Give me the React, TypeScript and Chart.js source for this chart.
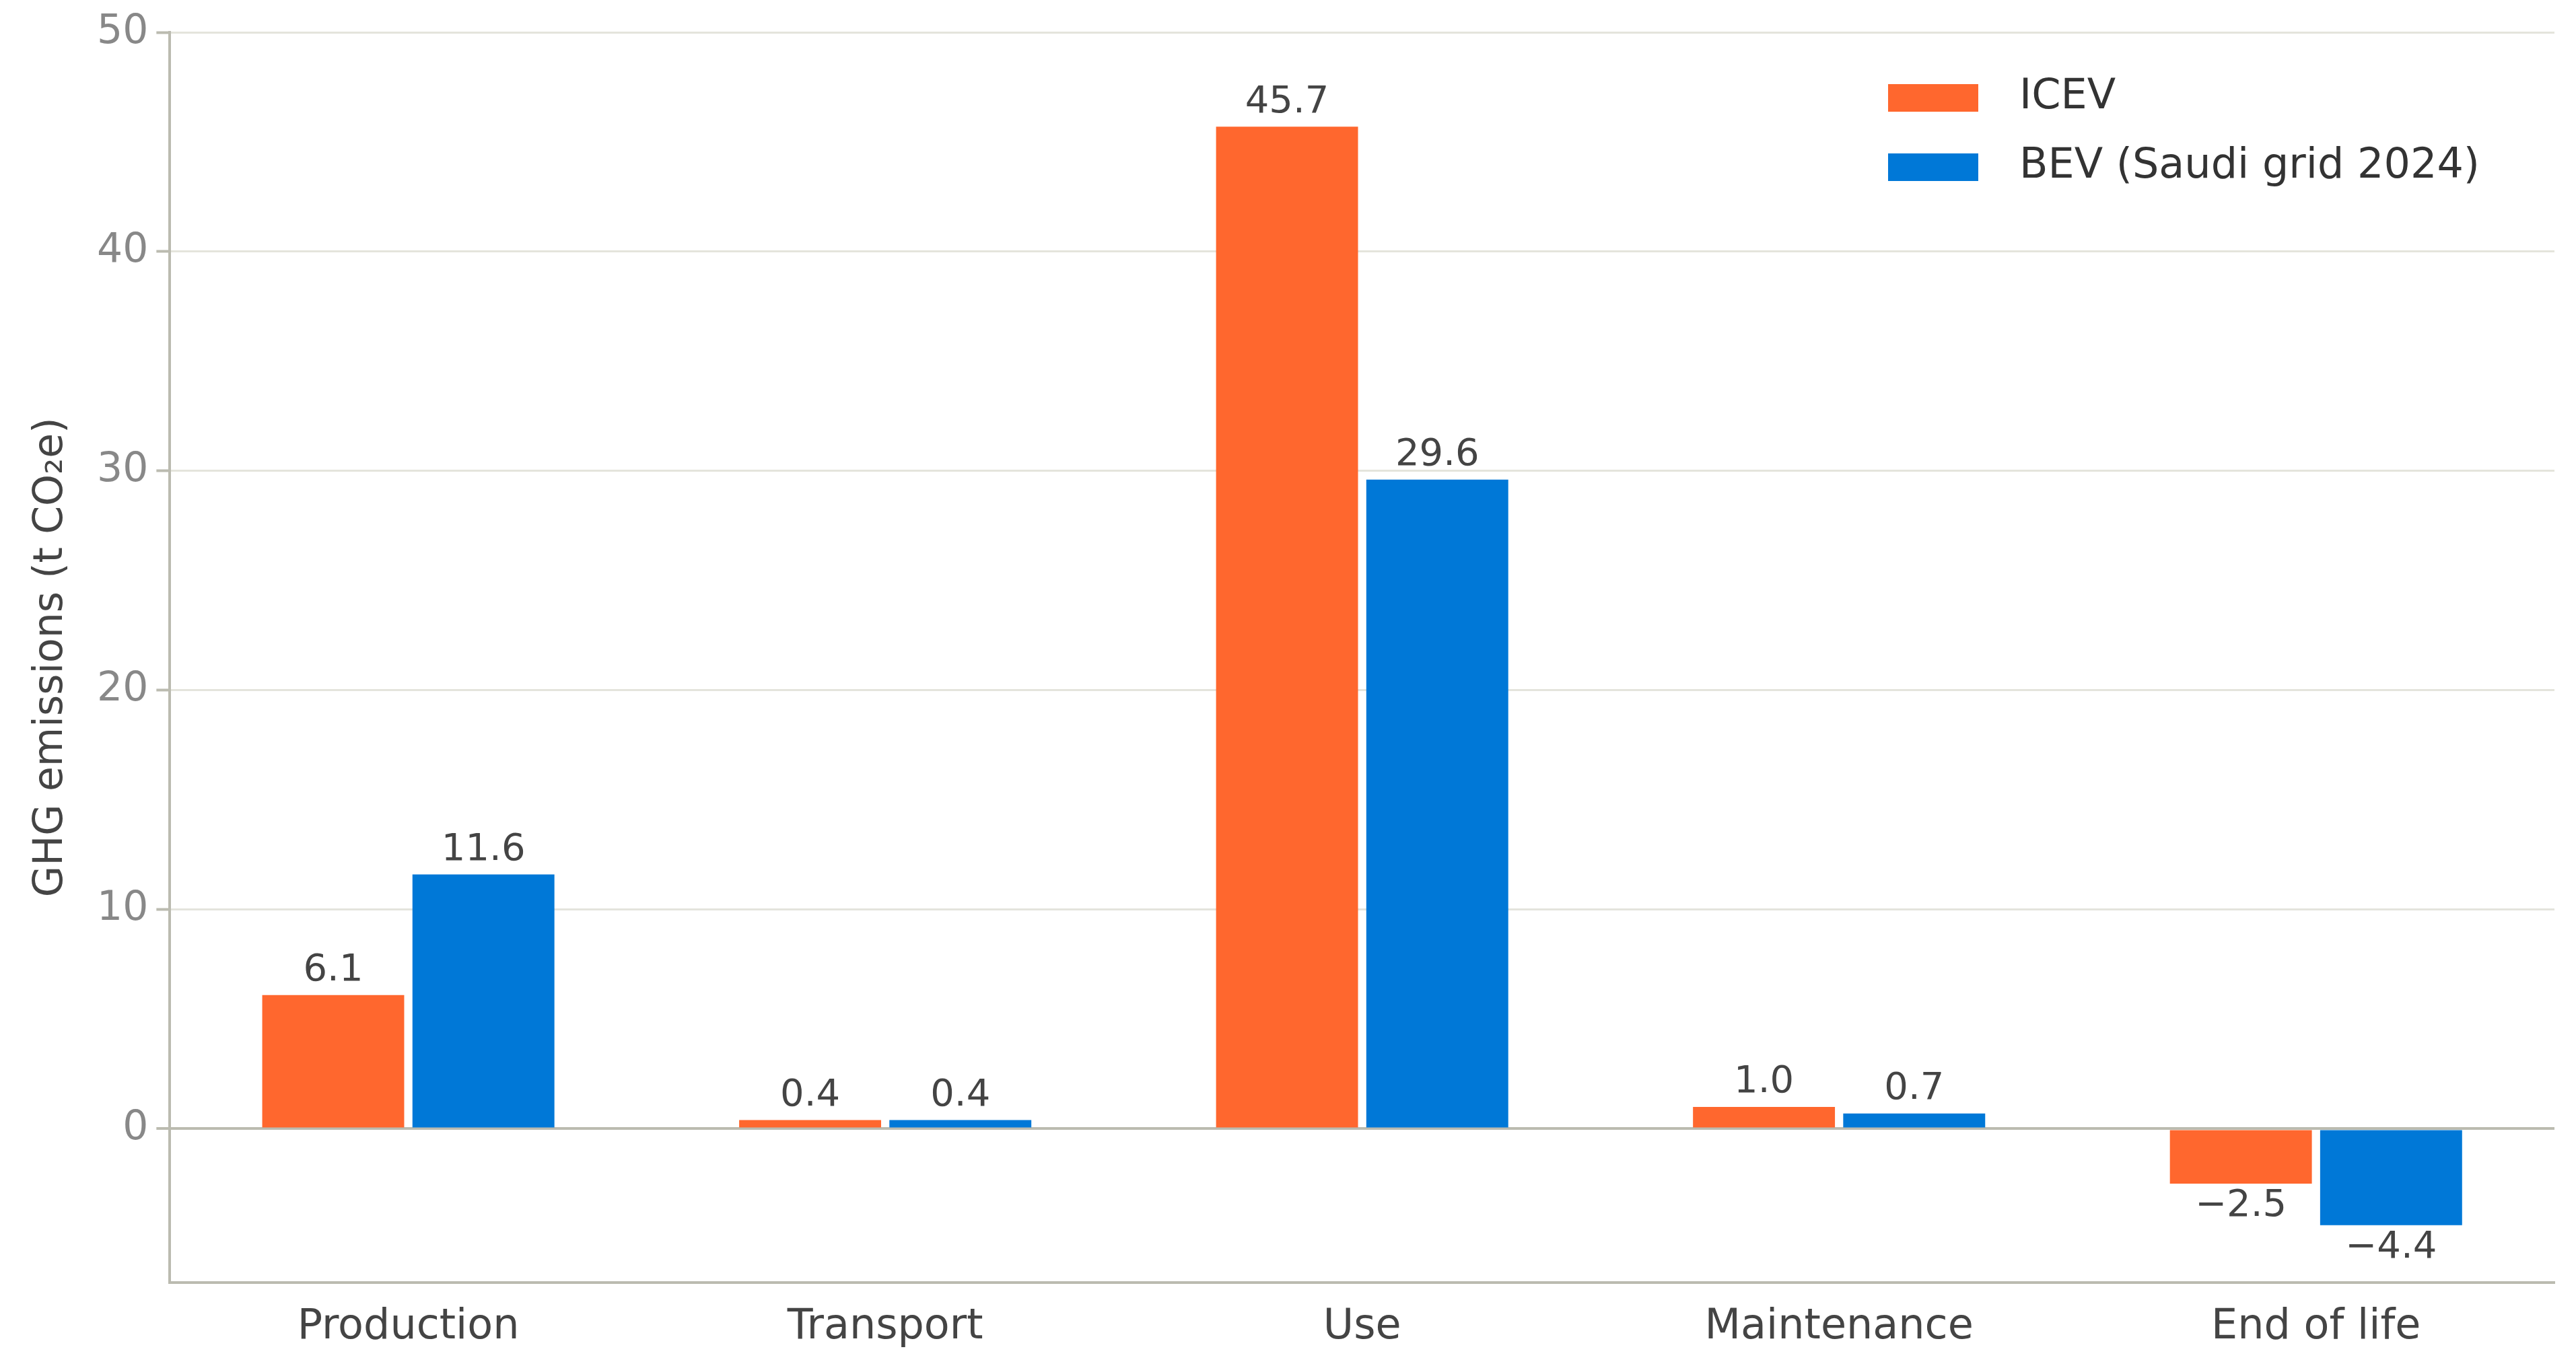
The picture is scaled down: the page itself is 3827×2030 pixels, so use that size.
import React, { useEffect, useRef } from "react";
import { Chart, registerables } from "chart.js";
Chart.register(...registerables);

const categories = ["Production", "Transport", "Use", "Maintenance", "End of life"];
const icev = [6.1, 0.4, 45.7, 1.0, -2.5];
const bev = [11.6, 0.4, 29.6, 0.7, -4.4];
const seriesNames = ["ICEV", "BEV (Saudi grid 2024)"];
const colors = ["#FF672E", "#0078D7"];
const yTicks = [0, 10, 20, 30, 40, 50];

const fmt = (v: number) => (v < 0 ? "\u2212" + Math.abs(v).toFixed(1) : v.toFixed(1));

const labelPlugin = {
  id: "labels",
  afterDatasetsDraw(chart: any) {
    const ctx = chart.ctx;
    ctx.save();
    ctx.font = "56px 'DejaVu Sans'";
    ctx.fillStyle = "#444";
    ctx.textAlign = "center";
    chart.data.datasets.forEach((ds: any, i: number) => {
      chart.getDatasetMeta(i).data.forEach((bar: any, j: number) => {
        const v = ds.data[j];
        if (v >= 0) { ctx.textBaseline = "bottom"; ctx.fillText(fmt(v), bar.x, bar.y - 8); }
        else { ctx.textBaseline = "top"; ctx.fillText(fmt(v), bar.x, bar.y + 6); }
      });
    });
    // legend
    const ca = chart.chartArea;
    const x0 = ca.right - 990, y0 = 145;
    ctx.textAlign = "left"; ctx.textBaseline = "middle"; ctx.font = "62px 'DejaVu Sans'";
    seriesNames.forEach((n, i) => {
      const y = y0 + i * 103;
      ctx.fillStyle = colors[i];
      ctx.fillRect(x0, y - 20, 134, 41);
      ctx.fillStyle = "#333";
      ctx.fillText(n, x0 + 195, y);
    });
    ctx.restore();
  },
};

export default function App() {
  const ref = useRef<HTMLCanvasElement>(null);
  useEffect(() => {
    document.body.style.margin = "0";
    const chart = new Chart(ref.current!, {
      type: "bar",
      data: {
        labels: categories,
        datasets: [
          { label: seriesNames[0], data: icev, backgroundColor: colors[0] },
          { label: seriesNames[1], data: bev, backgroundColor: colors[1] },
        ],
      },
      options: {
        responsive: false,
        animation: false,
        categoryPercentage: 0.63,
        barPercentage: 0.945,
        layout: { padding: { top: 30, right: 32, left: 20, bottom: 10 } },
        plugins: { legend: { display: false }, tooltip: { enabled: false } },
        scales: {
          x: {
            grid: { display: false, drawOnChartArea: false, drawTicks: true, tickLength: 20, tickColor: "#bbbbb0", tickWidth: 4 },
            border: { color: "#bbbbb0", width: 4 },
            ticks: { color: "#444", font: { family: "DejaVu Sans", size: 62 }, padding: 10 },
          },
          y: {
            min: -7,
            max: 50,
            afterBuildTicks: (a: any) => { a.ticks = yTicks.map((v) => ({ value: v })); },
            grid: {
              color: (c: any) => (c.tick && c.tick.value === 0 ? "#bbbbb0" : "#e4e4dc"),
              lineWidth: (c: any) => (c.tick && c.tick.value === 0 ? 4 : 3),
              tickLength: 20, tickColor: "#bbbbb0", tickWidth: 4,
            },
            border: { color: "#bbbbb0", width: 4 },
            ticks: { color: "#888", font: { family: "DejaVu Sans", size: 60 }, padding: 12 },
            title: { display: true, text: "GHG emissions (t CO\u2082e)", color: "#444", font: { family: "DejaVu Sans", size: 60 }, padding: 20 },
          },
        },
      },
      plugins: [labelPlugin],
    } as any);
    return () => chart.destroy();
  }, []);
  return <canvas ref={ref} width={3827} height={2030} />;
}
